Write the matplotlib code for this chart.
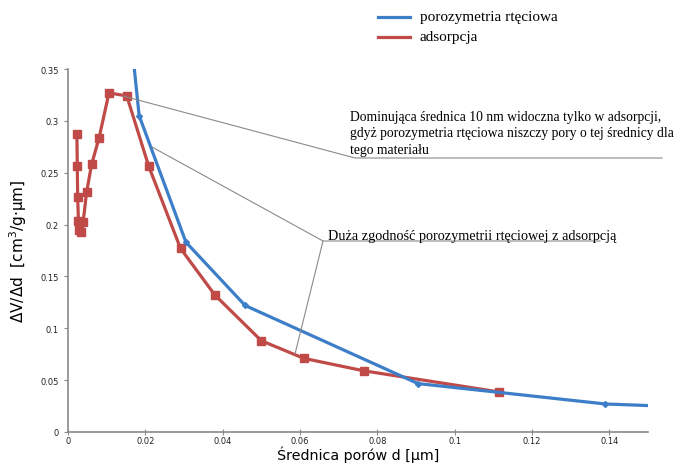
import numpy as np
import matplotlib.pyplot as plt
from matplotlib.lines import Line2D

# dane
d_hg = [0.0155, 0.0184, 0.0305, 0.0458, 0.0905, 0.139, 0.150]
v_hg = [0.41, 0.305, 0.183, 0.122, 0.0467, 0.027, 0.0255]
hg_markers = [1, 2, 3, 4, 5]

d_ads = [0.0023, 0.0024, 0.0025, 0.0027, 0.0029, 0.0033, 0.0039, 0.0048, 0.0061,
         0.0080, 0.0106, 0.0152, 0.0209, 0.0291, 0.0380, 0.0500, 0.0610, 0.0765, 0.1115]
v_ads = [0.287, 0.256, 0.227, 0.203, 0.195, 0.193, 0.202, 0.231, 0.258,
         0.283, 0.327, 0.324, 0.256, 0.177, 0.132, 0.088, 0.071, 0.059, 0.0386]

xticks = [0, 0.02, 0.04, 0.06, 0.08, 0.1, 0.12, 0.14]
xticklabels = ['0', '0.02', '0.04', '0.06', '0.08', '0.1', '0.12', '0.14']
yticks = [0, 0.05, 0.1, 0.15, 0.2, 0.25, 0.3, 0.35]
yticklabels = ['0', '0.05', '0.1', '0.15', '0.2', '0.25', '0.3', '0.35']

blue = '#3d7ec8'
red = '#bf4a47'
grey = '#8a8a8a'
W, H = 677, 464

fig = plt.figure(figsize=(W / 100, H / 100), dpi=100)
ax = fig.add_axes([68 / W, 1 - 433 / H, 580 / W, 363 / H])

ax.plot(d_hg, v_hg, color=blue, lw=2.3, marker='D', ms=3,
        markevery=hg_markers, zorder=3)
ax.plot(d_ads, v_ads, color=red, lw=2.3, marker='s', ms=5.5, zorder=2)

ax.set_xlim(0, 0.15)
ax.set_ylim(0, 0.35)
ax.set_xticks(xticks)
ax.set_xticklabels(xticklabels)
ax.set_yticks(yticks)
ax.set_yticklabels(yticklabels)
ax.tick_params(labelsize=6, colors='#222222', length=3, color=grey)
ax.tick_params(axis='x', direction='inout', length=4, pad=1)
for s in ['top', 'right']:
    ax.spines[s].set_visible(False)
for s in ['left', 'bottom']:
    ax.spines[s].set_color(grey)
    ax.spines[s].set_linewidth(1.2)

ax.set_ylabel('ΔV/Δd  [cm$^3$/g·µm]', fontsize=11, labelpad=8)


def px(x, y):
    return x / W, 1 - y / H


# podpis osi x - brak miejsca pod osią, więc ręcznie
fig.text(*px(358, 460), 'Średnica porów d [µm]', fontsize=10.3,
         ha='center', va='baseline')


def seg(points):
    xs, ys = zip(*[px(x, y) for x, y in points])
    fig.add_artist(Line2D(xs, ys, color=grey, lw=0.8, transform=fig.transFigure))


seg([(123, 97), (355, 159), (662, 159)])
seg([(152, 148), (323, 242), (600, 242)])
seg([(323, 242), (295, 355)])

serif = 'Liberation Serif'
fig.text(*px(350, 157), 'Dominująca średnica 10 nm widoczna tylko w adsorpcji,\n'
         'gdyż porozymetria rtęciowa niszczy pory o tej średnicy dla\n'
         'tego materiału', family=serif, fontsize=9.8, va='bottom',
         linespacing=1.35)
fig.text(*px(328, 243), 'Duża zgodność porozymetrii rtęciowej z adsorpcją',
         family=serif, fontsize=10.3, va='bottom')

# legenda
fig.add_artist(Line2D([378 / W, 410 / W], [1 - 18 / H] * 2, color=blue, lw=2.3))
fig.add_artist(Line2D([378 / W, 410 / W], [1 - 38 / H] * 2, color=red, lw=2.3))
fig.text(*px(420, 18), 'porozymetria rtęciowa', family=serif, fontsize=11, va='center')
fig.text(*px(420, 38), 'adsorpcja', family=serif, fontsize=11, va='center')

plt.savefig('out.png', dpi=100)
